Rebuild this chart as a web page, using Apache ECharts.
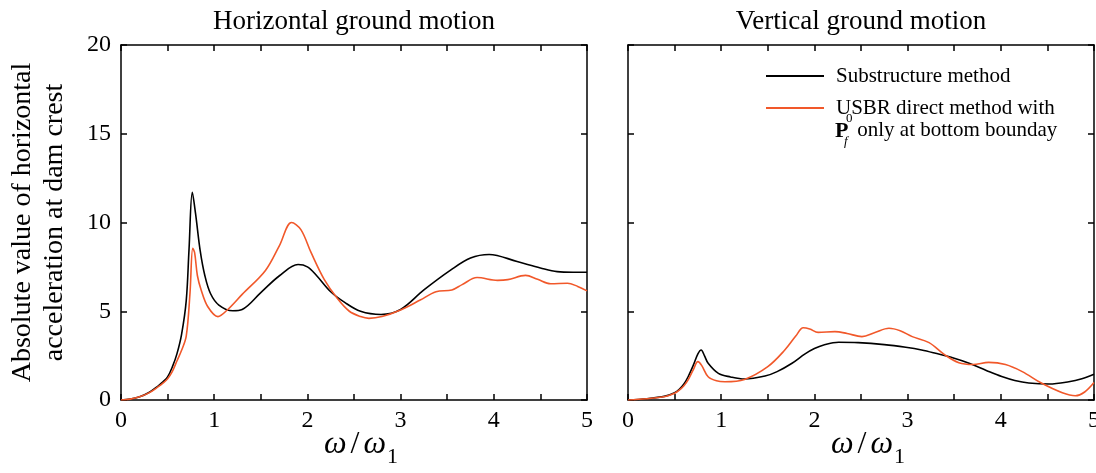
<!DOCTYPE html>
<html>
<head>
<meta charset="utf-8">
<script src="https://cdn.jsdelivr.net/npm/echarts@6/dist/echarts.min.js"></script>
<style>
html,body{margin:0;padding:0;background:#fff;}
#chart{width:1096px;height:473px;}
</style>
</head>
<body>
<div id="chart"></div>
<script>
// ---- data (x = omega/omega1, y = |acceleration|) ----
const panelTitles = ['Horizontal ground motion', 'Vertical ground motion'];
const seriesNames = ['Substructure method', 'USBR direct method with'];
const legendLine2 = ' only at bottom bounday';
const yAxisTitle = 'Absolute value of horizontal\nacceleration at dam crest';
const xTicks = [0, 1, 2, 3, 4, 5];
const yTicks = [0, 5, 10, 15, 20];

const hBlack = [[0,0],[0.1,0.05],[0.2,0.18],[0.3,0.42],[0.4,0.8],[0.45,1.02],[0.5,1.3],[0.55,1.85],[0.6,2.6],[0.65,3.7],[0.7,5.6],[0.73,8.5],[0.765,11.7],[0.8,10.5],[0.85,8.4],[0.9,7.0],[0.96,6.0],[1.05,5.35],[1.2,5.03],[1.3,5.1],[1.5,6.05],[1.7,7.0],[1.9,7.63],[2.0,7.5],[2.1,7.0],[2.25,6.1],[2.4,5.5],[2.57,5.0],[2.79,4.82],[3.0,5.1],[3.25,6.2],[3.54,7.33],[3.75,8.0],[3.95,8.2],[4.25,7.8],[4.5,7.44],[4.68,7.23],[4.85,7.2],[5.0,7.2]];
const hOrange = [[0,0],[0.1,0.05],[0.2,0.18],[0.3,0.4],[0.4,0.75],[0.45,0.95],[0.5,1.2],[0.55,1.6],[0.6,2.2],[0.65,2.8],[0.7,3.6],[0.74,6.0],[0.77,8.55],[0.79,8.3],[0.82,7.0],[0.86,6.2],[0.93,5.27],[1.04,4.7],[1.14,5.07],[1.3,5.95],[1.55,7.3],[1.7,8.7],[1.83,10.0],[1.93,9.6],[2.04,8.3],[2.18,6.8],[2.32,5.73],[2.45,5.0],[2.57,4.7],[2.66,4.6],[2.8,4.7],[3.0,5.07],[3.21,5.63],[3.38,6.1],[3.55,6.2],[3.66,6.5],[3.82,6.9],[4.04,6.74],[4.15,6.78],[4.34,7.02],[4.47,6.8],[4.61,6.55],[4.79,6.58],[4.9,6.4],[5.0,6.15]];
const vBlack = [[0,0],[0.2,0.07],[0.4,0.22],[0.5,0.41],[0.55,0.6],[0.6,0.9],[0.645,1.31],[0.7,1.95],[0.75,2.6],[0.785,2.82],[0.82,2.5],[0.86,2.07],[0.97,1.5],[1.1,1.3],[1.25,1.18],[1.47,1.35],[1.6,1.6],[1.76,2.07],[1.9,2.6],[2.0,2.9],[2.1,3.1],[2.26,3.25],[2.47,3.23],[2.75,3.12],[2.98,2.97],[3.15,2.82],[3.3,2.63],[3.5,2.35],[3.66,2.07],[3.85,1.65],[4.01,1.32],[4.15,1.1],[4.3,0.96],[4.52,0.9],[4.73,1.03],[4.87,1.2],[5.0,1.45]];
const vOrange = [[0,0],[0.2,0.07],[0.4,0.2],[0.5,0.38],[0.55,0.55],[0.6,0.8],[0.645,1.13],[0.7,1.7],[0.75,2.16],[0.79,1.95],[0.86,1.31],[0.95,1.08],[1.04,1.03],[1.25,1.16],[1.5,1.88],[1.68,2.8],[1.8,3.6],[1.88,4.07],[1.95,4.0],[2.04,3.81],[2.22,3.85],[2.35,3.75],[2.51,3.57],[2.65,3.8],[2.8,4.04],[2.92,3.9],[3.05,3.57],[3.23,3.23],[3.4,2.54],[3.55,2.1],[3.7,2.0],[3.87,2.12],[4.05,2.0],[4.23,1.6],[4.44,0.94],[4.66,0.41],[4.8,0.24],[4.9,0.45],[5.0,0.98]];

const FONT = 'Liberation Serif';
const BLACK = '#000000';
const ORANGE = '#f1582a';

const chart = echarts.init(document.getElementById('chart'));

const lineStyleAxis = {color: '#000', width: 1.5};
function xAx(grid, pos, withLabels, name) {
  const a = {
    gridIndex: grid, type: 'value', min: 0, max: 5, interval: 0.5, position: pos,
    axisLine: {show: true, onZero: false, lineStyle: lineStyleAxis},
    axisTick: {show: true, inside: true, length: 6, lineStyle: lineStyleAxis},
    splitLine: {show: false},
    nameMoveOverlap: false,
    axisLabel: {show: withLabels, margin: 9, fontFamily: FONT, fontSize: 24, color: '#000',
      formatter: v => (xTicks.indexOf(v) >= 0 ? String(v) : '')}
  };
  if (pos === 'bottom') {
    a.name = '{w|ω}{s|/}{w|ω}{sub|1}';
    a.nameLocation = 'middle';
    a.nameGap = 22;
    a.nameTextStyle = {padding: [0, 0, 0, 14], rich: {
      w: {fontFamily: FONT, fontStyle: 'italic', fontSize: 32, color: '#000'},
      s: {fontFamily: FONT, fontSize: 32, color: '#000', padding: [0, 4, 0, 4]},
      sub: {fontFamily: FONT, fontSize: 22, color: '#000', padding: [24, 0, 0, 1]}
    }};
  } else {
    a.name = name;
    a.nameLocation = 'middle';
    a.nameGap = 10;
    a.nameTextStyle = {fontFamily: FONT, fontSize: 27, color: '#000', verticalAlign: 'bottom'};
  }
  return a;
}
function yAx(grid, pos, withLabels, withName) {
  const a = {
    gridIndex: grid, type: 'value', min: 0, max: 20, interval: 5, position: pos,
    axisLine: {show: true, onZero: false, lineStyle: lineStyleAxis},
    axisTick: {show: true, inside: true, length: 6, lineStyle: lineStyleAxis},
    splitLine: {show: false},
    axisLabel: {show: withLabels, margin: 10, fontFamily: FONT, fontSize: 24, color: '#000',
      formatter: v => (yTicks.indexOf(v) >= 0 ? String(v) : '')}
  };
  if (withName) {
    a.name = yAxisTitle;
    a.nameLocation = 'middle';
    a.nameGap = 50;
    a.nameTextStyle = {fontFamily: FONT, fontSize: 28, lineHeight: 32, color: '#000', align: 'center'};
  }
  return a;
}

function mkSeries(name, data, color, xi) {
  return {
    name: name, type: 'line', data: data, xAxisIndex: xi, yAxisIndex: xi * 2,
    symbol: 'none', showSymbol: false, smooth: 0.35,
    lineStyle: {color: color, width: 1.6}, itemStyle: {color: color},
    animation: false
  };
}

const legendIcon = 'path://M0,0H58V1.8H0Z';

const option = {
  animation: false,
  backgroundColor: '#fff',
  grid: [
    {left: 121, top: 45, width: 466, height: 355, containLabel: false, outerBoundsMode: 'none'},
    {left: 628, top: 45, width: 466, height: 355, containLabel: false, outerBoundsMode: 'none'}
  ],
  xAxis: [
    xAx(0, 'bottom', true), xAx(1, 'bottom', true),
    xAx(0, 'top', false, panelTitles[0]), xAx(1, 'top', false, panelTitles[1])
  ],
  yAxis: [
    yAx(0, 'left', true, true), yAx(0, 'right', false, false),
    yAx(1, 'left', false, false), yAx(1, 'right', false, false)
  ],
  legend: {
    data: seriesNames.map(n => ({name: n, icon: legendIcon})),
    orient: 'vertical', left: 766, top: 65, padding: 0,
    itemWidth: 58, itemHeight: 14, itemGap: 10,
    symbolKeepAspect: true,
    textStyle: {fontFamily: FONT, fontSize: 21, lineHeight: 22, color: '#000', padding: [0, 0, 0, 7]},
    selectedMode: false
  },
  series: [
    mkSeries(seriesNames[0], hBlack, BLACK, 0),
    mkSeries(seriesNames[1], hOrange, ORANGE, 0),
    mkSeries(seriesNames[0], vBlack, BLACK, 1),
    mkSeries(seriesNames[1], vOrange, ORANGE, 1)
  ],
  graphic: [
    {type: 'text', left: 835, top: 120, style: {text: 'P', font: 'bold 22px "Liberation Serif"', fill: '#000'}},
    {type: 'text', left: 844, top: 135, style: {text: 'f', font: 'italic 13px "Liberation Serif"', fill: '#000'}},
    {type: 'text', left: 846, top: 112, style: {text: '0', font: '13px "Liberation Serif"', fill: '#000'}},
    {type: 'text', left: 852, top: 120, style: {text: legendLine2, font: '21px "Liberation Serif"', fill: '#000'}}
  ]
};
chart.setOption(option);
</script>
</body>
</html>
